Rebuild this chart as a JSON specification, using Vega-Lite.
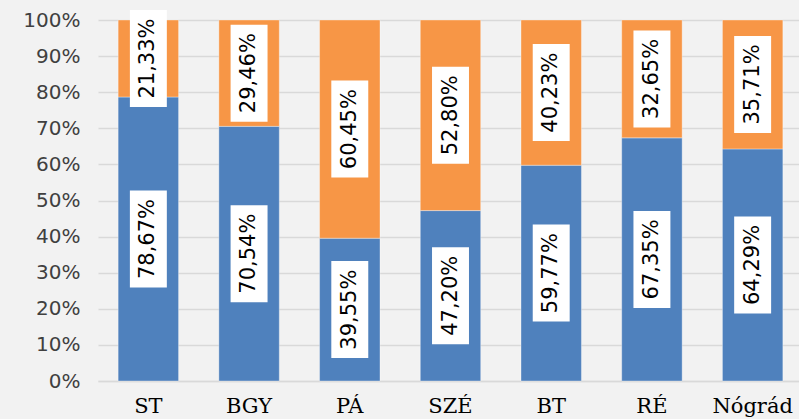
{
  "$schema": "https://vega.github.io/schema/vega-lite/v6.json",
  "autosize": {"type": "none"},
  "padding": {"left": 98, "top": 20, "right": 0, "bottom": 38},
  "width": 705,
  "height": 361,
  "background": "#F2F2F2",
  "data": {
    "values": [
      {"region": "ST", "series": "Sorozat1", "value": 78.67},
      {"region": "ST", "series": "Sorozat2", "value": 21.33},
      {"region": "BGY", "series": "Sorozat1", "value": 70.54},
      {"region": "BGY", "series": "Sorozat2", "value": 29.46},
      {"region": "PÁ", "series": "Sorozat1", "value": 39.55},
      {"region": "PÁ", "series": "Sorozat2", "value": 60.45},
      {"region": "SZÉ", "series": "Sorozat1", "value": 47.20},
      {"region": "SZÉ", "series": "Sorozat2", "value": 52.80},
      {"region": "BT", "series": "Sorozat1", "value": 59.77},
      {"region": "BT", "series": "Sorozat2", "value": 40.23},
      {"region": "RÉ", "series": "Sorozat1", "value": 67.35},
      {"region": "RÉ", "series": "Sorozat2", "value": 32.65},
      {"region": "Nógrád", "series": "Sorozat1", "value": 64.29},
      {"region": "Nógrád", "series": "Sorozat2", "value": 35.71}
    ]
  },
  "transform": [
    {"stack": "value", "groupby": ["region"], "sort": [{"field": "series", "order": "ascending"}], "as": ["v0", "v1"]},
    {"calculate": "(datum.v0 + datum.v1) / 2", "as": "mid"},
    {"calculate": "replace(format(datum.value, '.2f'), '.', ',') + '%'", "as": "label"}
  ],
  "encoding": {
    "x": {
      "field": "region",
      "type": "nominal",
      "sort": ["ST", "BGY", "PÁ", "SZÉ", "BT", "RÉ", "Nógrád"],
      "scale": {"paddingInner": 0.4, "paddingOuter": 0.2},
      "axis": {
        "title": null,
        "labelAngle": 0,
        "ticks": false,
        "domainColor": "#D9D9D9",
        "domainWidth": 1.5,
        "labelFont": "DejaVu Serif",
        "labelFontSize": 21,
        "labelColor": "#000000",
        "labelPadding": 14
      }
    }
  },
  "layer": [
    {
      "mark": {"type": "bar", "stroke": "#ffffff", "strokeOpacity": 0.35, "strokeWidth": 1},
      "encoding": {
        "y": {
          "field": "v0",
          "type": "quantitative",
          "scale": {"domain": [0, 100]},
          "axis": {"title": null}
        },
        "y2": {"field": "v1"},
        "color": {
          "field": "series",
          "type": "nominal",
          "scale": {"domain": ["Sorozat1", "Sorozat2"], "range": ["#4F81BD", "#F79646"]},
          "legend": null
        }
      }
    },
    {
      "mark": {
        "type": "point",
        "shape": "M-0.381,-1L0.381,-1L0.381,1L-0.381,1Z",
        "size": 9409,
        "filled": true,
        "fill": "#FFFFFF",
        "opacity": 1,
        "strokeWidth": 0
      },
      "encoding": {
        "y": {"field": "mid", "type": "quantitative", "axis": {"title": null}}
      }
    },
    {
      "mark": {
        "type": "text",
        "angle": 270,
        "align": "center",
        "baseline": "middle",
        "font": "DejaVu Sans",
        "fontSize": 21,
        "color": "#000000"
      },
      "encoding": {
        "y": {"field": "mid", "type": "quantitative", "axis": {"title": null}},
        "text": {"field": "label"}
      }
    }
  ],
  "config": {
    "view": {"stroke": null},
    "axisY": {
      "tickCount": 10,
      "labelExpr": "datum.value + '%'",
      "labelOverlap": false,
      "domain": false,
      "ticks": false,
      "gridColor": "#D9D9D9",
      "gridWidth": 1.5,
      "labelFont": "DejaVu Sans",
      "labelFontSize": 20,
      "labelColor": "#404040",
      "labelPadding": 18
    }
  }
}
